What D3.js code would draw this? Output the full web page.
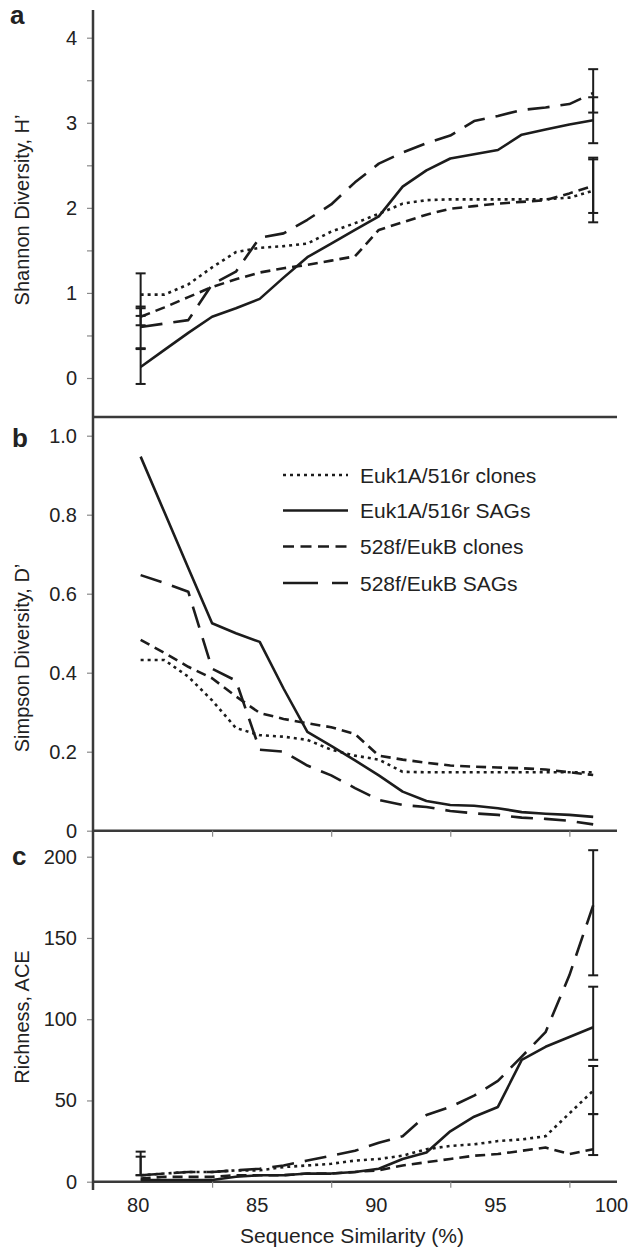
<!DOCTYPE html>
<html><head><meta charset="utf-8">
<script src="https://cdn.jsdelivr.net/npm/d3@7/dist/d3.min.js"></script>
<style>
body{margin:0;background:#fff}
svg text{font-family:"Liberation Sans",Arial,Helvetica,sans-serif;fill:#222}
</style></head>
<body><svg id="chart" width="633" height="1249"></svg>
<script>
// ---------------- data ----------------
const similarity = [80,81,82,83,84,85,86,87,88,89,90,91,92,93,94,95,96,97,98,99];
const seriesNames = ["Euk1A/516r clones","Euk1A/516r SAGs","528f/EukB clones","528f/EukB SAGs"];

// Panel a: Shannon diversity H'
const shannonEuk1AClones = [0.98,0.98,1.10,1.30,1.48,1.53,1.55,1.58,1.72,1.82,1.93,2.05,2.09,2.10,2.10,2.10,2.10,2.10,2.12,2.20];
const shannonEuk1ASAGs   = [0.13,0.33,0.53,0.72,0.82,0.93,1.18,1.42,1.58,1.74,1.90,2.25,2.44,2.58,2.63,2.68,2.86,2.92,2.98,3.03];
const shannon528fClones  = [0.72,0.83,0.95,1.07,1.16,1.24,1.29,1.33,1.38,1.43,1.74,1.83,1.92,1.99,2.02,2.05,2.07,2.09,2.17,2.26];
const shannon528fSAGs    = [0.60,0.64,0.68,1.10,1.25,1.65,1.70,1.86,2.04,2.30,2.52,2.65,2.76,2.85,3.02,3.08,3.15,3.18,3.22,3.35];
const shannonErr80Low  = [0.73,-0.07,0.62,0.35];
const shannonErr80High = [1.23,0.34,0.82,0.84];
const shannonErr99Low  = [1.83,2.76,1.94,3.12];
const shannonErr99High = [2.57,3.30,2.59,3.63];

// Panel b: Simpson diversity D'
const simpsonEuk1AClones = [0.432,0.432,0.39,0.33,0.26,0.242,0.238,0.23,0.205,0.19,0.18,0.149,0.148,0.148,0.148,0.148,0.148,0.148,0.148,0.148];
const simpsonEuk1ASAGs   = [0.947,0.806,0.665,0.525,0.50,0.478,0.36,0.25,0.215,0.178,0.14,0.099,0.075,0.065,0.063,0.057,0.047,0.043,0.04,0.035];
const simpson528fClones  = [0.483,0.45,0.415,0.386,0.34,0.298,0.283,0.272,0.262,0.245,0.19,0.18,0.172,0.165,0.162,0.16,0.158,0.155,0.148,0.141];
const simpson528fSAGs    = [0.647,0.627,0.605,0.41,0.38,0.205,0.20,0.165,0.14,0.108,0.078,0.065,0.06,0.05,0.044,0.04,0.033,0.03,0.025,0.016];

// Panel c: Richness ACE
const aceEuk1AClones = [4,5,6,6,7,7,9,10,11,13,14,16,20,22,23,25,26,28,42,56];
const aceEuk1ASAGs   = [1,1,1,1,3,4,4,5,5,6,8,14,18,31,40,46,75,83,89,95];
const ace528fClones  = [2,3,3,3,4,4,4,5,5,6,7,10,12,14,16,17,19,21,17,20];
const ace528fSAGs    = [4,5,6,6,7,8,10,13,16,19,24,28,41,46,53,62,77,92,127,170];
const aceErr80Low  = [4,null,null,4];
const aceErr80High = [15.4,null,null,18.5];
const aceErr99Low  = [41.6,75,16.4,127];
const aceErr99High = [71.2,120,41.6,204];

const xTickLabels = [80,85,90,95,100];
const xMinorTicks = [83,88,93,98];
const shannonTicks = [0,0.5,1,1.5,2,2.5,3,3.5,4];
const simpsonTicks = [0,0.2,0.4,0.6,0.8,1.0];
const aceTicks = [0,50,100,150,200];

// ---------------- drawing ----------------
const svg = d3.select("#chart");
const ink = "#1c1c1c";
const dashes = ["3,4", null, "10,6", "22,11"];
const legendDashes = ["3,4", null, "11,6.5", "35,14"];

const x = d3.scaleLinear().domain([78,100]).range([93,617]);

const panels = [
  {label:"a", title:"Shannon Diversity, H\u2019", top:10, bottom:417,
   y:d3.scaleLinear().domain([0,4]).range([378,37.7]),
   ticks:shannonTicks, fmt:v=>Number.isInteger(v)?String(v):"",
   series:[shannonEuk1AClones,shannonEuk1ASAGs,shannon528fClones,shannon528fSAGs],
   err:[[80,shannonErr80Low,shannonErr80High],[99,shannonErr99Low,shannonErr99High]],
   labelY:24, titleY:210},
  {label:"b", title:"Simpson Diversity, D\u2019", top:417, bottom:830.7,
   y:d3.scaleLinear().domain([0,1]).range([830.7,435.7]),
   ticks:simpsonTicks, fmt:v=>v===0?"0":d3.format(".1f")(v),
   series:[simpsonEuk1AClones,simpsonEuk1ASAGs,simpson528fClones,simpson528fSAGs],
   err:[], labelY:447, titleY:658},
  {label:"c", title:"Richness, ACE", top:830.7, bottom:1181.7,
   y:d3.scaleLinear().domain([0,200]).range([1181.7,856.7]),
   ticks:aceTicks, fmt:d3.format("d"),
   series:[aceEuk1AClones,aceEuk1ASAGs,ace528fClones,ace528fSAGs],
   err:[[80,aceErr80Low,aceErr80High],[99,aceErr99Low,aceErr99High]],
   labelY:865, titleY:1017}
];

panels.forEach(p => {
  const g = svg.append("g");
  const ax = g.append("g").attr("transform","translate(93,0)")
    .call(d3.axisLeft(p.y).tickValues(p.ticks).tickFormat(p.fmt).tickSize(6).tickPadding(10));
  ax.select(".domain").remove();
  ax.selectAll(".tick line").attr("stroke","#8a8a8a").attr("stroke-width",1.2);
  ax.selectAll(".tick text").attr("font-size",20).attr("fill","#222")
    .style("font-family","'Liberation Sans',Arial,sans-serif");

  g.append("line").attr("x1",93).attr("x2",617).attr("y1",p.bottom).attr("y2",p.bottom)
    .attr("stroke","#3a3a3a").attr("stroke-width",2.5);
  if (p.label !== "a") {
    const bx = g.append("g").attr("transform",`translate(0,${p.bottom})`)
      .call(d3.axisBottom(x).tickValues(xMinorTicks).tickFormat("").tickSize(6));
    bx.select(".domain").remove();
    bx.selectAll(".tick line").attr("stroke","#8a8a8a").attr("stroke-width",1.2);
  }

  p.series.forEach((vals,i) => {
    const line = d3.line().x((d,j)=>x(similarity[j])).y(d=>p.y(d));
    g.append("path").datum(vals).attr("d",line)
      .attr("fill","none").attr("stroke",ink).attr("stroke-width",2.6)
      .attr("stroke-linejoin","round")
      .attr("stroke-dasharray",dashes[i]);
  });

  p.err.forEach(([sx,lows,highs]) => {
    lows.forEach((lo,i) => {
      const hi = highs[i];
      if (lo===null || hi===null) return;
      const cx = x(sx);
      g.append("line").attr("x1",cx).attr("x2",cx).attr("y1",p.y(lo)).attr("y2",p.y(hi))
        .attr("stroke",ink).attr("stroke-width",2);
      [lo,hi].forEach(v => g.append("line").attr("x1",cx-5).attr("x2",cx+5)
        .attr("y1",p.y(v)).attr("y2",p.y(v)).attr("stroke",ink).attr("stroke-width",2));
    });
  });

  g.append("text").attr("x",p.label==="a"?10:12).attr("y",p.labelY)
    .attr("font-size",26).attr("font-weight","bold").text(p.label);
  g.append("text").attr("transform",`translate(29,${p.titleY}) rotate(-90)`)
    .attr("text-anchor","middle").attr("font-size",20).text(p.title);
});

svg.append("line").attr("x1",93).attr("x2",93).attr("y1",10).attr("y2",1190)
  .attr("stroke","#3a3a3a").attr("stroke-width",2.5);

const xl = svg.append("g").attr("transform","translate(0,1181.7)")
  .call(d3.axisBottom(x).tickValues(xTickLabels).tickFormat(d3.format("d")).tickSize(0).tickPadding(16));
xl.select(".domain").remove();
xl.selectAll(".tick text").attr("font-size",20).attr("fill","#222")
  .attr("dx",d=>d===100?-6:-3)
  .style("font-family","'Liberation Sans',Arial,sans-serif");

svg.append("text").attr("x",352).attr("y",1243).attr("text-anchor","middle")
  .attr("font-size",21).text("Sequence Similarity (%)");

const legendRows = [475,510.5,546.5,583];
seriesNames.forEach((name,i) => {
  svg.append("line").attr("x1",283).attr("x2",348).attr("y1",legendRows[i]).attr("y2",legendRows[i])
    .attr("stroke",ink).attr("stroke-width",2.6).attr("stroke-dasharray",legendDashes[i]);
  svg.append("text").attr("x",360).attr("y",legendRows[i]+7.5).attr("font-size",21).text(name);
});
</script></body></html>
